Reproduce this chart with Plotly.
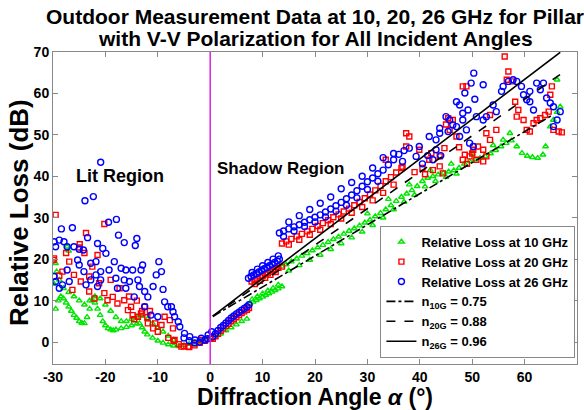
import plotly.graph_objects as go

# ---------------- data ----------------
# 10 GHz relative loss (green triangles): (angle deg, loss dB)
loss_10g = [
    # lit region, lower scalloped band
    (-29.5, 8.0), (-29.0, 10.0), (-28.5, 11.0), (-28.0, 10.5), (-27.5, 9.5), (-27.0, 8.5),
    (-26.5, 7.5), (-26.0, 6.5), (-25.5, 5.8), (-25.0, 5.0), (-24.5, 4.6), (-24.0, 4.5),
    (-23.5, 6.0), (-23.0, 8.0), (-22.5, 10.0), (-22.0, 9.5), (-21.5, 8.0), (-21.0, 6.5),
    (-20.5, 5.0), (-20.0, 4.0), (-19.5, 3.3), (-19.0, 3.0), (-18.5, 2.8), (-18.0, 3.0),
    (-17.0, 3.3), (-16.0, 3.6), (-15.0, 4.0), (-14.0, 4.4), (-13.5, 4.5), (-13.0, 3.5),
    (-12.5, 2.5), (-12.0, 1.8), (-11.0, 1.0), (-10.0, 0.3), (-9.0, -0.2), (-8.0, -0.6),
    (-7.0, -0.9), (-6.0, -1.0), (-5.0, -0.8), (-4.0, -0.5), (-3.0, -0.2), (-2.0, 0.0),
    # lit region, upper scalloped band
    (-28.0, 13.0), (-27.0, 12.0), (-26.0, 11.0), (-25.0, 10.0), (-24.0, 9.0), (-23.0, 10.0),
    (-22.0, 11.0), (-21.0, 10.5), (-20.0, 9.0), (-19.0, 7.5), (-18.0, 6.0), (-17.0, 5.0),
    (-16.0, 5.0), (-15.0, 5.5), (-14.0, 6.0), (-13.0, 6.3), (-12.0, 5.5), (-11.0, 4.5),
    (-10.0, 3.5), (-9.0, 2.5), (-8.0, 1.5), (-7.0, 0.5),
    (-29.5, 19.0), (-29.3, 17.0), (-28.8, 15.0), (-27.3, 23.0), (-27.0, 22.0), (-29.8, 14.0),
    # shadow region
    (-1.0, 0.3), (0.0, 0.6), (1.0, 1.2), (2.0, 2.0), (3.0, 2.8), (4.0, 3.5), (5.0, 4.2),
    (6.0, 5.0), (7.0, 5.6),
    (7.6, 9.3), (8.2, 9.7), (8.8, 10.1), (9.4, 10.5), (10.0, 10.9), (10.6, 11.3), (11.2, 11.7),
    (11.8, 12.1), (12.4, 12.5), (13.0, 12.9), (13.7, 13.4),
    (8.0, 10.3), (9.0, 11.0), (10.0, 11.7), (11.0, 12.4), (12.0, 13.0), (13.0, 13.8),
    (13.7, 18.2), (14.5, 18.7), (15.5, 19.4), (16.5, 20.1), (17.5, 20.8), (18.5, 21.4),
    (19.5, 22.1), (20.5, 22.8), (21.5, 23.4), (22.5, 24.1), (23.5, 24.8), (24.5, 25.4),
    (25.5, 26.1), (26.5, 26.8), (27.5, 27.4), (28.5, 28.1), (29.5, 28.8), (30.5, 29.5),
    (31.5, 30.3), (32.5, 31.1), (33.5, 32.0), (34.5, 33.0), (35.5, 34.0), (36.5, 35.0),
    (37.5, 35.8), (38.5, 36.6), (39.5, 37.6), (40.5, 38.8), (41.5, 39.6), (42.5, 40.0),
    (43.5, 40.4), (44.5, 40.8), (45.5, 41.1), (46.5, 41.4), (47.5, 42.0), (48.5, 43.0),
    (49.5, 43.6), (50.5, 44.1), (51.5, 44.4), (52.5, 44.8), (53.5, 45.5), (54.5, 46.3),
    (55.5, 47.2), (56.5, 48.0), (57.5, 48.6), (58.5, 47.2), (59.5, 45.6), (60.5, 44.9),
    (61.5, 44.6), (62.5, 44.4), (63.5, 45.2), (64.0, 47.2), (64.9, 52.0), (65.5, 53.6),
    (66.2, 55.5), (66.8, 56.8), (66.2, 63.3), (57.2, 50.4), (55.9, 48.8),
    (15.0, 17.2), (17.0, 18.5), (19.0, 19.8), (21.0, 21.0), (23.0, 22.4), (25.0, 23.8),
    (27.0, 25.2), (29.0, 26.6), (31.0, 28.2), (33.0, 30.0), (35.0, 32.0), (37.0, 33.8),
    (39.0, 35.5), (41.0, 37.5), (43.0, 38.8), (45.0, 39.8), (47.0, 40.6),
    (30.0, 31.0), (34.0, 34.5), (38.0, 38.0), (42.0, 41.5), (46.0, 43.0), (50.0, 45.5),
    (54.0, 47.5),
]

# 20 GHz relative loss (red squares)
loss_20g = [
    # lit region
    (-29.5, 30.7), (-29.9, 19.8), (-29.8, 20.2), (-20.2, 28.5), (-23.7, 26.3), (-24.9, 23.6),
    (-26.9, 19.4), (-28.2, 17.0), (-26.0, 16.2), (-24.7, 14.6), (-26.3, 12.6), (-23.1, 15.8),
    (-21.5, 21.0), (-22.5, 18.2), (-21.2, 14.2), (-23.1, 12.2), (-22.1, 10.5), (-20.2, 11.8),
    (-19.6, 10.1), (-18.6, 10.9), (-17.7, 9.3), (-16.4, 10.1), (-17.3, 13.0), (-15.7, 7.7),
    (-14.8, 6.5), (-13.8, 6.1), (-13.2, 6.9), (-12.5, 8.5), (-15.1, 8.5), (-11.9, 4.5),
    (-10.9, 3.3), (-10.0, 2.5), (-9.3, 4.1), (-8.7, 6.1), (-7.7, 5.3), (-7.1, 3.3),
    (-6.8, 0.5), (-5.5, -1.1), (-4.2, -1.1), (-2.9, -0.3), (-1.7, 0.5),
    (-8.0, 1.0), (-7.0, 0.3), (-6.0, -0.5), (-5.0, -1.0), (-4.0, -1.2), (-3.0, -0.8),
    (-2.0, -0.2), (-1.0, 0.3), (0.0, 0.8),
    (-28.8, 16.0), (-27.5, 21.5), (-25.0, 22.8), (-24.0, 21.5), (-19.0, 15.0), (-15.5, 11.0),
    (-14.0, 10.0), (-13.0, 7.5), (-14.5, 5.5), (-12.0, 6.0), (-10.5, 4.5), (-11.5, 7.5),
    # shadow region
    (0.5, 0.8), (1.0, 1.4), (1.5, 2.0), (2.0, 2.7), (2.5, 3.3), (3.0, 3.9), (3.5, 4.4),
    (4.0, 5.0), (4.5, 5.5), (5.0, 6.0), (5.5, 6.5), (6.0, 7.0), (6.5, 7.4), (7.0, 7.8), (7.4, 8.2),
    (7.9, 14.6), (8.5, 15.0), (9.0, 15.3), (9.5, 15.6), (10.0, 16.0), (10.5, 16.3), (11.0, 16.6),
    (11.5, 17.0), (12.0, 17.3), (12.5, 17.6), (13.0, 17.9), (13.7, 18.2),
    (8.5, 14.0), (9.5, 14.8), (10.5, 15.5), (11.5, 16.2), (12.5, 16.9),
    (13.7, 23.8), (14.5, 24.3), (15.5, 24.9), (16.5, 25.5), (17.5, 26.1), (18.5, 26.7),
    (19.5, 27.3), (20.5, 28.0), (21.5, 28.7), (22.5, 29.4), (23.5, 30.1), (24.5, 30.8),
    (25.5, 31.5), (26.5, 32.2), (27.5, 33.0), (28.5, 33.8), (29.5, 34.7), (30.5, 35.6),
    (31.5, 36.6), (32.5, 37.7), (33.5, 38.8), (34.5, 39.8), (35.5, 40.9), (36.5, 42.0),
    (15.0, 23.5), (17.0, 24.7), (19.0, 25.9), (21.0, 27.1), (23.0, 28.5), (25.0, 29.8),
    (27.0, 31.2), (29.0, 32.6), (31.0, 34.2), (33.0, 36.0), (35.0, 38.0),
    (56.2, 68.9), (56.9, 65.3), (48.2, 61.7), (48.9, 61.7), (57.7, 62.9), (56.6, 63.3),
    (58.2, 58.0), (58.8, 56.0), (58.5, 54.4), (59.8, 53.6), (60.4, 51.2), (61.0, 50.8),
    (61.7, 52.8), (62.3, 53.6), (63.0, 54.0), (63.9, 54.8), (64.6, 55.6), (64.9, 59.7),
    (65.2, 61.7), (65.5, 51.2), (66.5, 50.8), (67.1, 50.6), (53.4, 54.8), (54.6, 51.2),
    (52.7, 50.4), (53.4, 48.8), (50.2, 46.4), (51.1, 47.2), (52.1, 46.4), (52.7, 44.8),
    (52.1, 43.6), (50.8, 44.0), (49.5, 44.8), (48.6, 45.2), (48.2, 44.0), (49.0, 43.0),
    (47.0, 49.6), (45.7, 51.2), (46.3, 53.6), (45.4, 54.0), (44.7, 46.8), (43.8, 44.8),
    (43.8, 42.4), (44.4, 40.7), (41.8, 44.0), (42.2, 45.6), (39.9, 46.4), (38.0, 49.6),
    (37.4, 50.4), (37.4, 47.2), (33.5, 44.0), (36.7, 42.3),
    (39.0, 41.0), (40.5, 42.0), (41.0, 40.5), (42.5, 41.5), (45.0, 52.5), (47.5, 47.0),
    (50.0, 45.5),
]

# 26 GHz relative loss (blue circles)
loss_26g = [
    # lit region
    (-29.8, 24.2), (-29.5, 23.0), (-28.8, 24.6), (-28.4, 27.3), (-27.9, 24.2), (-27.3, 23.0),
    (-26.3, 27.6), (-26.0, 23.0), (-25.0, 22.4), (-24.2, 22.2), (-23.4, 25.2), (-29.8, 15.8),
    (-29.5, 14.6), (-28.8, 13.0), (-28.2, 13.8), (-27.3, 17.4), (-26.9, 14.6), (-25.3, 19.8),
    (-25.0, 18.6), (-24.1, 17.0), (-22.8, 19.0), (-21.8, 19.4), (-21.5, 23.8), (-20.5, 22.6),
    (-19.9, 21.4), (-19.4, 28.9), (-17.9, 29.6), (-17.5, 25.8), (-16.4, 24.0), (-14.0, 25.0),
    (-14.3, 23.3), (-18.3, 19.4), (-19.3, 17.4), (-20.9, 17.0), (-21.8, 16.2), (-22.8, 15.0),
    (-23.7, 13.8), (-21.5, 13.4), (-20.9, 15.0), (-18.0, 15.4), (-17.0, 17.8), (-16.1, 17.4),
    (-14.8, 17.4), (-13.2, 17.4), (-12.9, 18.6), (-16.4, 15.0), (-15.4, 14.6), (-13.8, 15.0),
    (-13.5, 13.4), (-17.7, 13.0), (-16.1, 13.0), (-14.5, 10.9), (-12.5, 12.2), (-11.9, 10.9),
    (-10.9, 13.4), (-10.3, 16.2), (-9.8, 19.4), (-9.3, 17.0), (-9.0, 12.7), (-12.5, 8.5),
    (-11.3, 6.5), (-10.0, 6.1), (-8.7, 9.7), (-8.1, 8.5), (-7.4, 8.5), (-7.1, 7.3),
    (-6.8, 6.1), (-6.1, 4.9), (-5.8, 3.7), (-4.9, 2.1), (-3.9, 1.3), (-2.9, 0.5),
    (-1.7, 0.9), (-0.4, 1.7), (0.3, 2.5), (-23.9, 34.1), (-22.3, 35.1), (-20.9, 43.4),
    (-5.0, 1.0), (-4.0, 0.3), (-3.0, -0.2), (-2.0, 0.0), (-1.0, 0.5), (-0.5, 0.8),
    # shadow region
    (0.5, 1.3), (1.0, 2.0), (1.5, 2.8), (2.0, 3.5), (2.5, 4.0), (3.0, 4.6), (3.5, 5.2),
    (4.0, 5.8), (4.5, 6.3), (5.0, 6.8), (5.5, 7.2), (6.0, 7.7), (6.5, 8.1), (7.0, 8.5), (7.4, 9.0),
    (7.3, 15.4), (7.8, 15.8), (8.3, 16.2), (8.8, 16.5), (9.3, 16.9), (9.8, 17.3), (10.3, 17.7),
    (10.8, 18.0), (11.3, 18.4), (11.8, 18.8), (12.3, 19.2), (12.8, 19.6), (13.2, 20.0),
    (8.0, 16.8), (9.0, 17.6), (10.0, 18.4), (11.0, 19.2), (12.0, 20.0), (13.0, 20.8),
    (13.2, 26.3), (14.0, 26.8), (15.0, 27.3), (16.0, 27.8), (17.0, 28.3), (18.0, 28.9),
    (19.0, 29.5), (20.0, 30.1), (21.0, 30.7), (22.0, 31.4), (23.0, 32.1), (24.0, 32.9),
    (25.0, 33.7), (26.0, 34.6), (27.0, 35.5), (28.0, 36.5), (29.0, 37.6), (30.0, 38.7),
    (31.0, 39.6), (32.0, 40.6), (33.0, 41.5), (34.0, 42.8), (35.0, 44.0), (36.0, 45.3),
    (37.0, 46.2),
    (14.0, 25.5), (16.0, 26.8), (18.0, 27.9), (20.0, 29.0), (22.0, 30.2), (24.0, 31.6),
    (26.0, 33.0), (28.0, 34.8), (30.0, 36.8), (32.0, 38.8),
    (15.0, 29.0), (17.0, 30.5), (19.0, 32.0), (21.0, 33.5), (23.0, 35.0), (25.0, 37.0),
    (27.0, 38.5), (29.0, 40.0), (31.0, 42.0), (33.0, 44.5), (35.0, 45.5),
    (36.7, 43.6), (39.3, 44.8), (38.0, 46.8), (39.9, 47.2), (41.8, 49.6), (43.1, 48.8),
    (43.8, 51.6), (45.0, 54.4), (46.3, 52.4), (47.0, 58.0), (47.6, 57.2), (48.2, 55.2),
    (49.2, 56.0), (48.9, 51.2), (50.5, 58.6), (49.8, 62.5), (50.3, 64.9), (52.1, 62.1),
    (52.7, 54.4), (54.0, 57.2), (54.6, 55.6), (52.1, 53.6), (50.8, 54.4), (48.2, 53.6),
    (47.0, 52.0), (45.7, 53.6), (45.4, 50.8), (47.6, 49.6), (49.5, 48.0), (50.2, 47.2),
    (55.6, 60.5), (55.9, 61.7), (56.9, 62.9), (57.8, 63.3), (58.5, 62.9), (59.4, 61.7),
    (59.8, 59.7), (60.4, 58.5), (61.0, 58.0), (61.7, 56.0), (62.3, 62.5), (63.0, 60.9),
    (63.6, 62.5), (64.2, 58.9), (64.9, 57.7), (65.5, 56.8), (66.8, 55.6), (66.2, 53.6),
    (65.5, 52.0), (61.0, 60.5), (43.8, 50.4), (43.1, 46.4), (48.6, 60.1),
    (40.5, 43.0), (41.5, 45.0), (42.5, 44.0), (44.0, 45.0),
]

# Fitted lines: slope n (dB/deg), intercept (dB), angle extent (deg)
fit_names = ["n<sub>10G</sub> = 0.75", "n<sub>20G</sub> = 0.88", "n<sub>26G</sub> = 0.96"]
fit_n = [0.75, 0.88, 0.96]
fit_c = [5.8, 5.8, 5.8]
fit_x0 = [0.5, 0.5, 0.5]
fit_x1 = [65.5, 67.2, 66.8]
fit_dash = ["dashdot", "dash", "solid"]

x_ticks = [-30, -20, -10, 0, 10, 20, 30, 40, 50, 60, 70]
y_ticks = [0, 10, 20, 30, 40, 50, 60, 70]

title_lines = ["Outdoor Measurement Data at 10, 20, 26 GHz for Pillar",
               "with V-V Polarization for All Incident Angles"]

FONT = "Liberation Sans, Arial, Helvetica, sans-serif"

fig = go.Figure()

series = [
    ("Relative Loss at 10 GHz", loss_10g, "#00e600", "triangle-up-open", 5),
    ("Relative Loss at 20 GHz", loss_20g, "#ff0000", "square-open", 5),
    ("Relative Loss at 26 GHz", loss_26g, "#0000ff", "circle-open", 6),
]
for name, pts, col, sym, sz in series:
    fig.add_trace(go.Scatter(
        x=[p[0] for p in pts], y=[p[1] for p in pts], mode="markers", name=name,
        marker=dict(symbol=sym, size=sz, color=col, line=dict(width=1.4, color=col)),
    ))

for name, n, c, x0, x1, d in zip(fit_names, fit_n, fit_c, fit_x0, fit_x1, fit_dash):
    fig.add_trace(go.Scatter(
        x=[x0, x1], y=[n * x0 + c, n * x1 + c], mode="lines", name=name,
        line=dict(color="black", width=1.6, dash=d),
    ))

fig.add_vline(x=0, line=dict(color="#dd22dd", width=1.5))

fig.add_annotation(x=-17.3, y=40, text="<b>Lit Region</b>", showarrow=False,
                   font=dict(family=FONT, size=18, color="black"))
fig.add_annotation(x=13.6, y=42, text="<b>Shadow Region</b>", showarrow=False,
                   font=dict(family=FONT, size=17, color="black"))

# title lines and axis titles as paper annotations (plot area: px 53..577, 52..364)
for txt, yp in zip(title_lines, [1.113, 1.043]):
    fig.add_annotation(xref="paper", yref="paper", x=0.5, y=yp, text=f"<b>{txt}</b>",
                       showarrow=False, xanchor="center", yanchor="middle",
                       font=dict(family=FONT, size=21, color="black"))
fig.add_annotation(xref="paper", yref="paper", x=0.5, y=-0.106,
                   text="<b>Diffraction Angle <i>α</i> (°)</b>", showarrow=False,
                   xanchor="center", yanchor="middle",
                   font=dict(family=FONT, size=23, color="black"))
fig.add_annotation(xref="paper", yref="paper", x=-0.066, y=0.485,
                   text="<b>Relative Loss (dB)</b>", showarrow=False, textangle=-90,
                   xanchor="center", yanchor="middle",
                   font=dict(family=FONT, size=26, color="black"))

fig.update_layout(
    width=584, height=410,
    margin=dict(l=53, r=7, t=52, b=46, autoexpand=False),
    paper_bgcolor="white", plot_bgcolor="white",
    font=dict(family=FONT, color="black"),
    legend=dict(
        x=0.997, xanchor="right", y=0.02, yanchor="bottom",
        bgcolor="white", bordercolor="#888888", borderwidth=1,
        font=dict(family=FONT, size=13, color="black", weight="bold"),
        itemwidth=30, tracegroupgap=0,
    ),
    xaxis=dict(
        range=[-30, 70], tickvals=x_ticks, ticktext=[str(v) for v in x_ticks],
        showgrid=False, zeroline=False, showline=True, mirror="ticks", automargin=False,
        linecolor="#888888", linewidth=1, ticks="inside", ticklen=5, tickcolor="#888888",
        tickfont=dict(family=FONT, size=14, color="black", weight="bold"),
    ),
    yaxis=dict(
        range=[-5.3, 70], tickvals=y_ticks, ticktext=[str(v) for v in y_ticks],
        showgrid=False, zeroline=False, showline=True, mirror="ticks", automargin=False,
        linecolor="#888888", linewidth=1, ticks="inside", ticklen=5, tickcolor="#888888",
        tickfont=dict(family=FONT, size=14, color="black", weight="bold"),
    ),
)

fig.write_html("out.html", config={"displayModeBar": False},
               post_script="document.body.style.margin='0';document.body.style.overflow='hidden';")
